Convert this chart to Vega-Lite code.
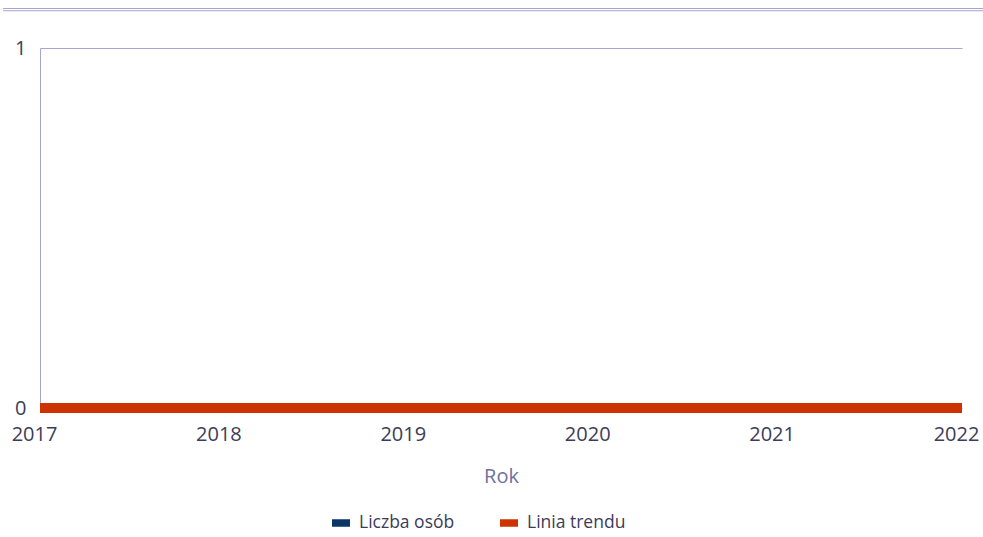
{
  "$schema": "https://vega.github.io/schema/vega-lite/v6.json",
  "autosize": "none",
  "width": 922,
  "height": 360,
  "padding": {"left": 40, "top": 48, "right": 21, "bottom": 129},
  "background": "white",
  "config": {
    "font": "Open Sans",
    "view": {"stroke": null},
    "axis": {"labelFont": "Open Sans", "titleFont": "Open Sans"}
  },
  "datasets": {
    "series": [
      {"Rok": 2017, "seria": "Liczba osób", "wartosc": 0},
      {"Rok": 2018, "seria": "Liczba osób", "wartosc": 0},
      {"Rok": 2019, "seria": "Liczba osób", "wartosc": 0},
      {"Rok": 2020, "seria": "Liczba osób", "wartosc": 0},
      {"Rok": 2021, "seria": "Liczba osób", "wartosc": 0},
      {"Rok": 2022, "seria": "Liczba osób", "wartosc": 0},
      {"Rok": 2017, "seria": "Linia trendu", "wartosc": 0},
      {"Rok": 2018, "seria": "Linia trendu", "wartosc": 0},
      {"Rok": 2019, "seria": "Linia trendu", "wartosc": 0},
      {"Rok": 2020, "seria": "Linia trendu", "wartosc": 0},
      {"Rok": 2021, "seria": "Linia trendu", "wartosc": 0},
      {"Rok": 2022, "seria": "Linia trendu", "wartosc": 0}
    ],
    "ozdoba": [{"linia": "górna"}]
  },
  "layer": [
    {
      "data": {"name": "series"},
      "mark": {"type": "line", "strokeWidth": 10, "strokeCap": "butt", "clip": false},
      "encoding": {
        "x": {
          "field": "Rok", "type": "quantitative",
          "scale": {"domain": [2017, 2022], "nice": false, "zero": false},
          "axis": {
            "values": [2017, 2018, 2019, 2020, 2021, 2022],
            "format": "d",
            "title": "Rok",
            "domain": false,
            "ticks": false,
            "grid": false,
            "labelFlush": false,
            "labelBound": false,
            "labelOverlap": false,
            "labelFontSize": 20,
            "labelColor": "#3c3c58",
            "labelPadding": 16,
            "labelOffset": -6,
            "titleFontSize": 20,
            "titleFontWeight": "normal",
            "titleColor": "#7070a0",
            "titlePadding": 22
          }
        },
        "y": {
          "field": "wartosc", "type": "quantitative",
          "scale": {"domain": [0, 1], "nice": false},
          "axis": {
            "values": [0, 1],
            "format": "d",
            "title": null,
            "domain": true,
            "domainColor": "#a4a6cc",
            "ticks": false,
            "grid": true,
            "gridColor": "#a4a6cc",
            "gridOpacity": 1,
            "labelFontSize": 20,
            "labelColor": "#3c3c58",
            "labelPadding": 14
          }
        },
        "color": {
          "field": "seria", "type": "nominal",
          "scale": {"domain": ["Liczba osób", "Linia trendu"], "range": ["#0b3566", "#cc3300"]},
          "legend": {
            "title": null,
            "orient": "none",
            "legendX": 288,
            "legendY": 462,
            "direction": "horizontal",
            "symbolType": "stroke",
            "symbolSize": 324,
            "symbolStrokeWidth": 7.5,
            "labelFontSize": 17.5,
            "labelColor": "#3c3c58",
            "labelFont": "Open Sans",
            "labelOffset": 5,
            "columnPadding": 30
          }
        }
      }
    },
    {
      "data": {"name": "ozdoba"},
      "mark": {"type": "rule", "color": "#a4a6cc", "strokeWidth": 1, "clip": false},
      "encoding": {
        "x": {"datum": 2016.8},
        "x2": {"datum": 2022.114},
        "y": {"datum": 1.1097}
      }
    },
    {
      "data": {"name": "ozdoba"},
      "mark": {"type": "rule", "color": "#a4a6cc", "strokeWidth": 1, "clip": false},
      "encoding": {
        "x": {"datum": 2016.8},
        "x2": {"datum": 2022.114},
        "y": {"datum": 1.1035}
      }
    }
  ]
}
